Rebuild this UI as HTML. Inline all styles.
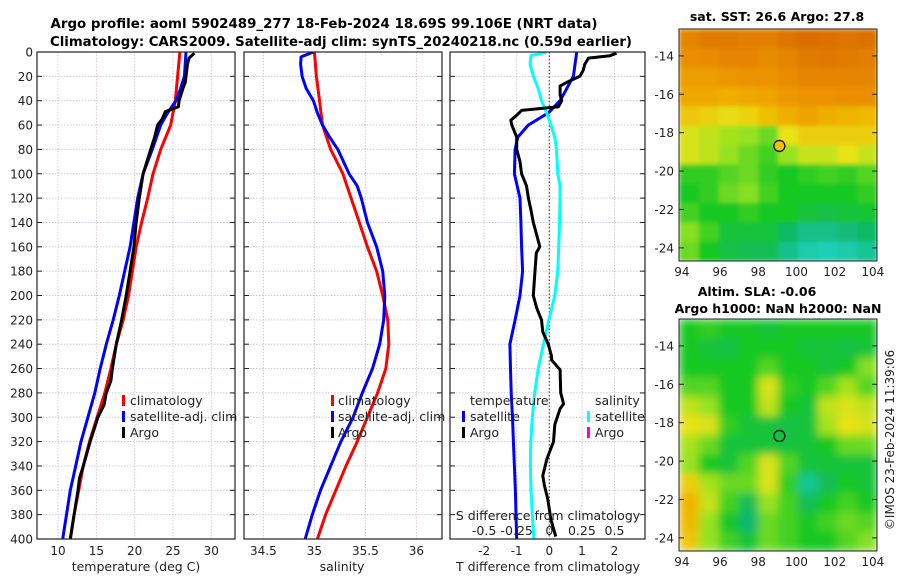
<!DOCTYPE html>
<html><head><meta charset="utf-8"><style>
html,body{margin:0;padding:0;background:#fff;}
svg{display:block;font-family:"DejaVu Sans","Liberation Sans",sans-serif;}
</style></head><body>
<svg id="fig" width="900" height="580" viewBox="0 0 900 580" xmlns="http://www.w3.org/2000/svg">
<defs>
<clipPath id="c1"><rect x="37" y="52" width="198" height="487"/></clipPath>
<clipPath id="c2"><rect x="244" y="52" width="198" height="487"/></clipPath>
<clipPath id="c3"><rect x="450" y="52" width="195" height="487"/></clipPath>
<clipPath id="cm1"><rect x="679" y="29" width="198" height="232"/></clipPath>
<clipPath id="cm2"><rect x="679" y="319" width="198" height="232"/></clipPath>
<filter id="b1" x="-5%" y="-5%" width="110%" height="110%"><feGaussianBlur stdDeviation="2" edgeMode="duplicate"/></filter>
<filter id="b2" x="-5%" y="-5%" width="110%" height="110%"><feGaussianBlur stdDeviation="4.5" edgeMode="duplicate"/></filter>
</defs>
<text x="324" y="28" font-size="13" font-weight="bold" text-anchor="middle" textLength="547" lengthAdjust="spacingAndGlyphs">Argo profile: aoml 5902489_277 18-Feb-2024 18.69S 99.106E (NRT data)</text>
<text x="341" y="46" font-size="13" font-weight="bold" text-anchor="middle" textLength="582" lengthAdjust="spacingAndGlyphs">Climatology: CARS2009. Satellite-adj clim: synTS_20240218.nc (0.59d earlier)</text>
<text x="777" y="21" font-size="12.5" font-weight="bold" text-anchor="middle">sat. SST: 26.6 Argo: 27.8</text>
<text x="757" y="296" font-size="12.5" font-weight="bold" text-anchor="middle">Altim. SLA: -0.06</text>
<text x="778" y="313" font-size="12.5" font-weight="bold" text-anchor="middle">Argo h1000: NaN h2000: NaN</text>
<text transform="translate(894,440) rotate(-90)" font-size="12" text-anchor="middle" fill="#222">©IMOS 23-Feb-2024 11:39:06</text>
<g id="g"></g>
</svg>
<script>
// ---- data ----
const depthStd = [0,20,40,60,80,100,120,140,160,180,200,220,240,260,280,300,320,340,360,380,400];
const tClim = [25.9,25.6,25.3,24.7,23.4,22.4,21.7,20.9,20.2,19.7,19.2,18.5,17.6,16.9,16.1,15.1,14.1,13.3,12.7,12.1,11.6];
const sClim = [35.0,35.02,35.05,35.08,35.16,35.28,35.36,35.44,35.52,35.61,35.67,35.72,35.73,35.70,35.62,35.52,35.42,35.31,35.21,35.11,35.03];
const tSatDepth = [0,10,20,30,40,50,60,80,100,120,140,160,180,200,220,240,260,280,300,320,340,360,380,400];
const tSat = [26.7,26.6,26.5,26.0,25.4,24.3,23.4,22.3,21.1,20.4,19.9,19.4,18.7,18.0,17.2,16.3,15.5,14.8,13.9,13.0,12.3,11.6,11.1,10.6];
const argoDepth = [1,5,10,20,25,30,40,45,49,55,60,70,80,100,120,140,160,180,200,220,240,260,270,280,290,300,320,340,350,360,380,400];
const argoT = [27.8,27.1,26.9,26.7,26.6,26.3,25.8,25.7,24.0,23.6,23.0,22.6,22.1,21.1,20.6,20.2,19.9,19.4,18.9,18.3,17.6,17.1,16.9,16.3,16.0,15.2,14.2,13.3,12.8,12.6,12.1,11.6];
const sSatDepth = [0,4,10,20,30,40,50,60,70,80,100,110,120,140,160,180,200,220,240,260,280,300,320,340,360,380,400];
const sSat = [34.99,34.87,34.865,34.88,34.92,34.99,35.03,35.08,35.15,35.23,35.34,35.42,35.46,35.52,35.61,35.67,35.69,35.68,35.64,35.57,35.47,35.38,35.26,35.16,35.06,34.98,34.91];
const dTSatDepth = [0,20,40,50,60,70,80,100,120,140,160,180,200,220,240,260,280,300,320,340,360,380,400];
const dTSat = [0.84,0.74,0.33,-0.03,-0.64,-0.97,-1.05,-1.07,-0.90,-0.87,-0.85,-0.82,-0.90,-1.05,-1.21,-1.19,-1.17,-1.13,-1.1,-1.07,-1.04,-1.02,-1.0];
const dTArgoDepth = [1,3,5,10,15,20,25,28,35,40,45,48,52,56,60,70,80,90,100,110,120,130,140,150,160,165,180,200,210,220,230,240,250,253,261,280,289,293,306,320,334,348,356,367,384,398];
const dTArgo = [2.06,1.86,1.2,1.09,1.04,0.94,0.53,0.33,0.33,0.38,0.28,-0.85,-1.0,-1.18,-1.15,-1.0,-1.0,-0.9,-0.85,-0.7,-0.64,-0.56,-0.49,-0.39,-0.29,-0.4,-0.44,-0.49,-0.39,-0.24,-0.2,-0.03,0.07,0.07,0.33,0.35,0.44,0.33,0.17,0.13,-0.07,-0.2,-0.15,-0.05,0.05,0.2];
const dSSatDepth = [0,3,10,20,30,40,50,60,70,80,100,110,120,140,160,180,200,220,240,260,280,300,320,340,360,380,400];
const dSSat = [-0.02,-0.14,-0.148,-0.122,-0.085,-0.06,-0.02,0.012,0.042,0.055,0.065,0.082,0.082,0.078,0.072,0.065,0.042,-0.002,-0.045,-0.085,-0.112,-0.13,-0.142,-0.145,-0.14,-0.13,-0.118];
const depthTicks = [0,20,40,60,80,100,120,140,160,180,200,220,240,260,280,300,320,340,360,380,400];
const tTicks = [10,15,20,25,30];
const sTicks = [34.5,35,35.5,36];
const dTTicks = [-2,-1,0,1,2];
const dSTicks = [-0.5,-0.25,0,0.25,0.5];
const dSTickLabels = ["-0.5","-0.25","0","0.25","0.5"];
const lonTicks = [94,96,98,100,102,104];
const latTicks = [-14,-16,-18,-20,-22,-24];
const argoLon = 99.106, argoLat = -18.69;
const sstGrid = [
[.9,.93,.93,.92,.92,.95,.97,.96,.95,.96],
[.87,.88,.9,.9,.88,.9,.93,.94,.93,.92],
[.82,.82,.85,.86,.86,.88,.9,.9,.9,.9],
[.78,.78,.76,.78,.8,.84,.86,.86,.87,.87],
[.68,.65,.62,.64,.7,.76,.8,.76,.74,.72],
[.58,.55,.52,.5,.45,.6,.66,.66,.66,.66],
[.58,.55,.5,.45,.4,.5,.56,.56,.6,.56],
[.38,.38,.42,.45,.38,.35,.38,.4,.38,.42],
[.35,.38,.45,.48,.4,.35,.35,.35,.35,.38],
[.4,.35,.35,.38,.35,.35,.3,.28,.3,.32],
[.48,.4,.3,.3,.3,.22,.15,.15,.18,.22],
[.45,.35,.28,.25,.25,.15,.08,.05,.08,.12]];
const slaGrid = [
[.35,.38,.35,.35,.3,.35,.35,.35,.35,.35],
[.35,.3,.28,.35,.35,.35,.3,.3,.28,.3],
[.35,.35,.35,.35,.42,.35,.35,.3,.35,.48],
[.42,.42,.35,.35,.58,.38,.35,.42,.52,.42],
[.55,.5,.35,.35,.55,.35,.3,.55,.58,.55],
[.6,.58,.38,.3,.3,.28,.3,.52,.6,.58],
[.52,.45,.3,.3,.3,.3,.3,.35,.45,.45],
[.5,.35,.3,.42,.58,.42,.3,.3,.3,.3],
[.66,.52,.45,.45,.58,.38,.12,.25,.35,.3],
[.74,.56,.4,.25,.5,.4,.25,.35,.4,.35],
[.72,.5,.33,.2,.45,.4,.35,.4,.45,.42],
[.68,.5,.4,.3,.45,.4,.35,.35,.42,.48]];

// ---- scales ----
const NS="http://www.w3.org/2000/svg";
const G=document.getElementById('g');
function mk(tag,at,parent){const e=document.createElementNS(NS,tag);for(const k in at)e.setAttribute(k,at[k]);(parent||G).appendChild(e);return e;}
const yD=d=>52+d*487/400;
const x1=t=>37+(t-7.25)*(198/25.85);
const x2=s=>244+(s-34.31)*102;
const x3=t=>549.3+t*32.6;
const x3s=s=>549.3+s*4*32.6;
const mx=lon=>679+(lon-93.85)*19.1;
const my1=lat=>29+(-12.6-lat)*19.2;
const my2=lat=>319+(-12.6-lat)*19.2;

function panelFrame(x0,w,name,xt,xfun,xlabs){
  const bg=mk('rect',{x:x0,y:52,width:w,height:487,fill:'#fff'});
  
  
  depthTicks.forEach(d=>{
    const l=mk('line',{x1:x0,x2:x0+w,y1:yD(d),y2:yD(d),stroke:'#c4cbe6','stroke-width':1,'stroke-dasharray':'1.5,1.5'});
    
    
    const t1=mk('line',{x1:x0,x2:x0+5,y1:yD(d),y2:yD(d),stroke:'#222'});
    
    
    const t2=mk('line',{x1:x0+w-5,x2:x0+w,y1:yD(d),y2:yD(d),stroke:'#222'});
    
    
  });
  xt.forEach((v,i)=>{
    const l=mk('line',{x1:xfun(v),x2:xfun(v),y1:52,y2:539,stroke:'#d6c8d8','stroke-width':1,'stroke-dasharray':'1.5,1.5'});
    
    
    if(xlabs){
      const t=mk('text',{x:xfun(v),y:555,'font-size':12,'text-anchor':'middle',fill:'#222'});
      t.textContent=xlabs[i];
      
      
    }
  });
}
function frameBox(x0,w,name){
  const r=mk('rect',{x:x0,y:52,width:w,height:487,fill:'none',stroke:'#222','stroke-width':1.2});
  
  
}
function line(ds,vs,xf,color,clip,name){
  const pts=ds.map((d,i)=>xf(vs[i]).toFixed(1)+','+yD(d).toFixed(1)).join(' ');
  const p=mk('polyline',{points:pts,fill:'none',stroke:color,'stroke-width':3,'stroke-linejoin':'round','clip-path':'url(#'+clip+')'});
  
  
}
function label(x,y,txt,name,opt){
  const t=mk('text',Object.assign({x:x,y:y,'font-size':12.5,fill:'#222'},opt||{}));
  t.textContent=txt;
  
  
  return t;
}
function legMark(x,y,color,name){
  const r=mk('rect',{x:x,y:y-10,width:3,height:11,fill:color});
  
  
}

// panel 1
panelFrame(37,198,'temperature-panel',tTicks,x1,tTicks.map(String));
depthTicks.forEach(d=>{const t=label(33,yD(d)+4.5,String(d),'depth-tick-label',{'text-anchor':'end','font-size':12});});
line(depthStd,tClim,x1,'#ff0000','c1','temperature-climatology-line');
line(tSatDepth,tSat,x1,'#0000ff','c1','temperature-satellite-line');
line(argoDepth,argoT,x1,'#000000','c1','temperature-argo-line');
frameBox(37,198,'temperature-panel');
label(136,571,'temperature (deg C)','temperature-x-axis-title',{'text-anchor':'middle'});
legMark(122,405,'#ff0000','legend-climatology-marker');label(130,405,'climatology','legend-climatology');
legMark(122,421,'#0000ff','legend-satellite-marker');label(130,421,'satellite-adj. clim','legend-satellite-adj');
legMark(122,437,'#000000','legend-argo-marker');label(130,437,'Argo','legend-argo');

// panel 2
panelFrame(244,198,'salinity-panel',sTicks,x2,sTicks.map(String));
line(depthStd,sClim,x2,'#ff0000','c2','salinity-climatology-line');
line(sSatDepth,sSat,x2,'#0000ff','c2','salinity-satellite-line');
frameBox(244,198,'salinity-panel');
label(342,571,'salinity','salinity-x-axis-title',{'text-anchor':'middle'});
legMark(331,405,'#ff0000','legend2-climatology-marker');label(338,405,'climatology','legend2-climatology');
legMark(331,421,'#0000ff','legend2-satellite-marker');label(338,421,'satellite-adj. clim','legend2-satellite-adj');
legMark(331,437,'#000000','legend2-argo-marker');label(338,437,'Argo','legend2-argo');

// panel 3
panelFrame(450,195,'difference-panel',dTTicks,x3,dTTicks.map(String));
const zl=mk('line',{x1:x3(0),x2:x3(0),y1:52,y2:539,stroke:'#6a5030','stroke-width':1.2,'stroke-dasharray':'1.5,2'});


line(dTSatDepth,dTSat,x3,'#0000ff','c3','t-diff-satellite-line');
line(dSSatDepth,dSSat,x3s,'#00ffff','c3','s-diff-satellite-line');
line(dTArgoDepth,dTArgo,x3,'#000000','c3','t-diff-argo-line');
frameBox(450,195,'difference-panel');
label(548,571,'T difference from climatology','t-diff-x-axis-title',{'text-anchor':'middle'});
label(548,520,'S difference from climatology','s-diff-axis-title',{'text-anchor':'middle'});
dSTicks.forEach((v,i)=>{label(x3s(v),535,dSTickLabels[i],'s-diff-tick-label',{'text-anchor':'middle'});});
label(470,405,'temperature','legend3-temperature-header');
legMark(462,421,'#0000ff','legend3-t-satellite-marker');label(470,421,'satellite','legend3-t-satellite');
legMark(462,437,'#000000','legend3-t-argo-marker');label(470,437,'Argo','legend3-t-argo');
label(595,405,'salinity','legend3-salinity-header');
legMark(587,421,'#00ffff','legend3-s-satellite-marker');label(595,421,'satellite','legend3-s-satellite');
legMark(587,437,'#ff00cc','legend3-s-argo-marker');label(595,437,'Argo','legend3-s-argo');

// maps
const stops=[[0,[32,216,208]],[0.2,[16,184,112]],[0.35,[24,200,32]],[0.5,[150,226,32]],[0.6,[232,226,24]],[0.72,[240,184,0]],[0.85,[236,150,0]],[1,[214,100,0]]];
function cmap(v){for(let i=1;i<stops.length;i++){if(v<=stops[i][0]){const a=stops[i-1],b=stops[i],f=(v-a[0])/(b[0]-a[0]);const c=a[1].map((x,j)=>Math.round(x+(b[1][j]-x)*f));return 'rgb('+c.join(',')+')';}}return 'rgb(214,100,0)';}
function drawMap(grid,top,clip,filt,name,my,filled){
  const cg=mk('g',{'clip-path':'url(#'+clip+')'});
  
  
  const ig=mk('g',{filter:'url(#'+filt+')'},cg);
  const rows=grid.length,cols=grid[0].length,cw=198/cols,ch=232/rows;
  grid.forEach((row,r)=>row.forEach((v,c)=>{
    const cell=mk('rect',{x:679+c*cw,y:top+r*ch,width:cw+0.6,height:ch+0.6,fill:cmap(v)},ig);
    
    
  }));
  const fr=mk('rect',{x:679,y:top,width:198,height:232,fill:'none',stroke:'#222','stroke-width':1});
  
  
  latTicks.forEach(v=>{
    const t=label(674,my(v)+4.5,String(v),name+'-lat-label',{'text-anchor':'end','font-size':12});
    const a=mk('line',{x1:679,x2:684,y1:my(v),y2:my(v),stroke:'#222'});
    
    
    const b=mk('line',{x1:872,x2:877,y1:my(v),y2:my(v),stroke:'#222'});
    
    
  });
  lonTicks.forEach(v=>{
    label(mx(v),top+232+15,String(v),name+'-lon-label',{'text-anchor':'middle','font-size':12});
  });
  const m=mk('circle',{cx:mx(argoLon),cy:my(argoLat),r:5.5,fill:filled?'#f5c000':'none',stroke:'#111','stroke-width':1.3});
  
  
}
drawMap(sstGrid,29,'cm1','b1','sst-map',my1,true);
drawMap(slaGrid,319,'cm2','b2','sla-map',my2,false);
</script>
</body></html>
